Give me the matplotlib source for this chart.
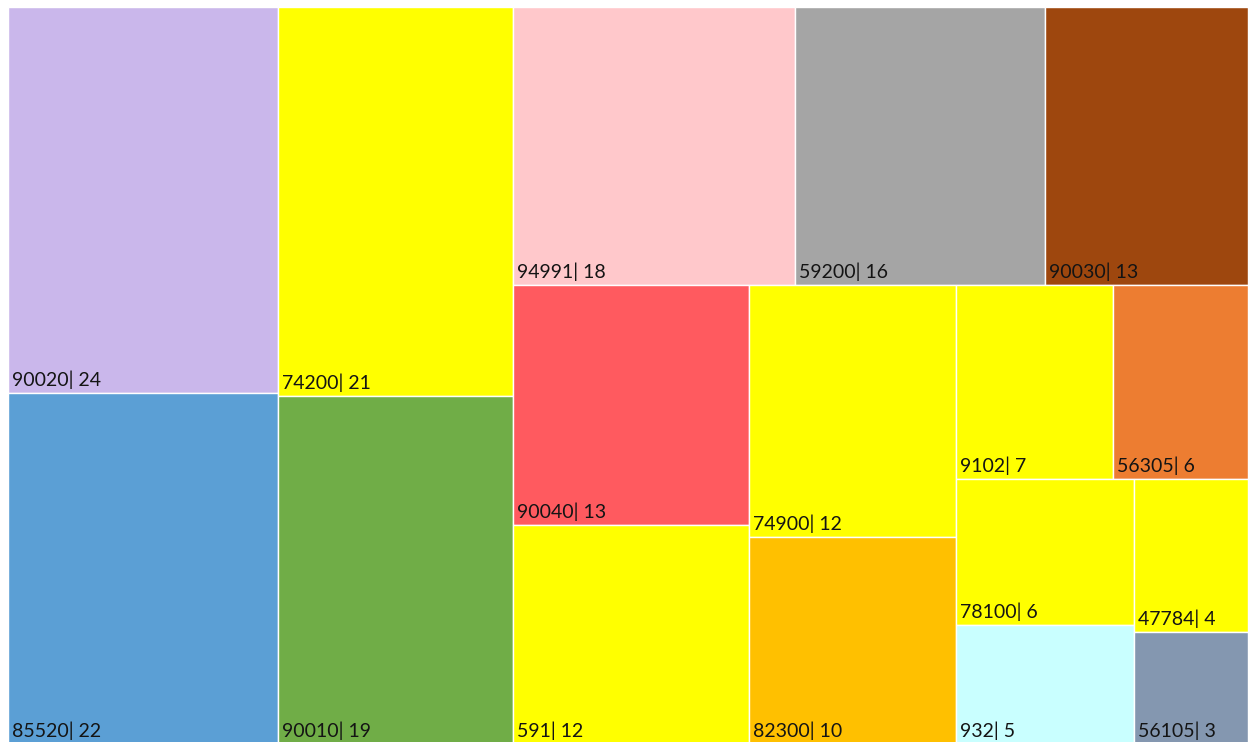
import matplotlib.pyplot as plt
from matplotlib.patches import Rectangle

codes = ["90020", "85520", "74200", "90010", "94991", "59200", "90030",
         "90040", "591", "74900", "82300", "9102", "56305", "78100",
         "932", "47784", "56105"]
counts = [24, 22, 21, 19, 18, 16, 13, 13, 12, 12, 10, 7, 6, 6, 5, 4, 3]
colors = ["#CAB7EB", "#5B9FD5", "#FFFF00", "#70AD47", "#FFC8CB", "#A5A5A5",
          "#9E470E", "#FF5A5F", "#FFFF00", "#FFFF00", "#FFC000", "#FFFF00",
          "#ED7D31", "#FFFF00", "#C9FFFF", "#FFFF00", "#8497B0"]

# strips of the treemap: how many items each takes and whether it is a
# column on the left ("v") or a row along the top ("h") of what is left
strips = [(2, "v"), (2, "v"), (3, "h"), (2, "v"), (2, "v"),
          (2, "h"), (2, "v"), (1, "h"), (1, "h")]

W, H = 1240.0, 740.0


def layout(values, strips, x, y, w, h):
    rects = []
    i = 0
    remaining = float(sum(values))
    for n, kind in strips:
        part = values[i:i + n]
        s = float(sum(part))
        if kind == "v":
            sw = w * s / remaining
            yy = y
            for v in part:
                ph = h * v / s
                rects.append((x, yy, sw, ph))
                yy += ph
            x += sw
            w -= sw
        else:
            sh = h * s / remaining
            xx = x
            for v in part:
                pw = w * v / s
                rects.append((xx, y, pw, sh))
                xx += pw
            y += sh
            h -= sh
        remaining -= s
        i += n
    return rects


rects = layout(counts, strips, 0, 0, W, H)

fig = plt.figure(figsize=(12.48, 7.42), dpi=100)
# the map runs a few pixels past the bottom edge of the figure
ax = fig.add_axes([8 / 1248, -5 / 742, 1240 / 1248, 740 / 742])
ax.set_xlim(0, W)
ax.set_ylim(H, 0)
ax.axis("off")

for (x, y, w, h), code, n, c in zip(rects, codes, counts, colors):
    ax.add_patch(Rectangle((x, y), w, h, facecolor=c, edgecolor="white", linewidth=1))
    bottom = min(y + h, 737)
    ax.text(x + 4, bottom - 7, f"{code}| {n}", ha="left", va="baseline",
            fontsize=14, family=["Lato", "DejaVu Sans"], color="#141414")

fig.savefig("out.png", dpi=100)
